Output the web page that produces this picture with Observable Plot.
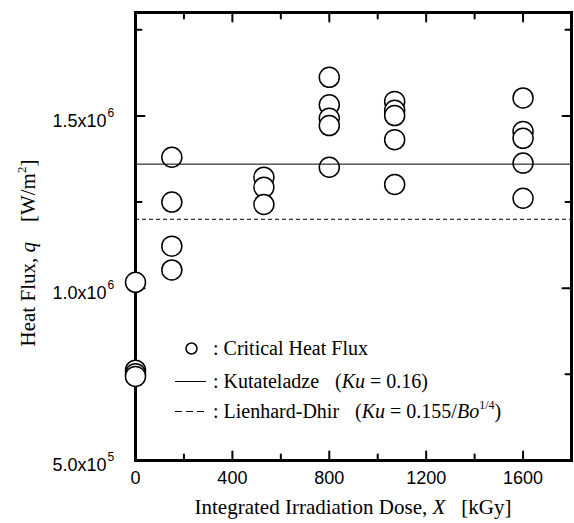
<!DOCTYPE html>
<html><head><meta charset="utf-8">
<script src="https://cdn.jsdelivr.net/npm/d3@7"></script>
<script src="https://cdn.jsdelivr.net/npm/@observablehq/plot@0.6"></script>
<style>
body{margin:0;background:#fff;}
</style></head><body><div id="chart"></div>
<script>
// ---- data ----
const doseX = [0,0,0,0, 150,150,150,150, 530,530,530, 800,800,800,800,800, 1070,1070,1070,1070,1070, 1600,1600,1600,1600,1600];
const heatFluxQ = [1.017e6,0.762e6,0.752e6,0.744e6, 1.380e6,1.250e6,1.122e6,1.053e6, 1.322e6,1.293e6,1.243e6, 1.612e6,1.532e6,1.493e6,1.472e6,1.351e6, 1.542e6,1.516e6,1.501e6,1.431e6,1.301e6, 1.552e6,1.455e6,1.435e6,1.363e6,1.261e6];
const kutateladzeQ = [1.36e6];
const lienhardDhirQ = [1.20e6];
const xDomain = [0, 1800];
const yDomain = [5e5, 1.8e6];
const xTickLabels = [0, 400, 800, 1200, 1600];
const xMajorTicks = [400, 800, 1200, 1600];
const xMinorTicks = [200, 600, 1000, 1400];
const yTickValues = [5e5, 1e6, 1.5e6];
const yTickMantissa = ["5.0x10", "1.0x10", "1.5x10"];
const yTickExponent = ["5", "6", "6"];
const yMajorTicks = [1e6, 1.5e6];
const yMinorTicks = [7.5e5, 1.25e6, 1.75e6];

const points = doseX.map((x, i) => ({x, q: heatFluxQ[i]}));
const yLabels = yTickValues.map((v, i) => ({v, m: yTickMantissa[i], e: yTickExponent[i]}));

const sans = "'Liberation Sans', Arial, Helvetica, sans-serif";
const serif = "'Liberation Serif', 'Times New Roman', serif";
const tickShape = {draw(ctx, l) { ctx.moveTo(0, 0); ctx.lineTo(0, -l); }};

function ticks(data, anchor, len, rot, chan) {
  const o = {frameAnchor: anchor, length: len, rotate: rot, anchor: "start", shape: tickShape, stroke: "black", strokeWidth: 2};
  o[chan] = d => d;
  return Plot.vector(data, o);
}

const plot = Plot.plot({
  width: 574, height: 523,
  marginLeft: 135, marginRight: 3, marginTop: 12, marginBottom: 63,
  x: {domain: xDomain, axis: null},
  y: {domain: yDomain, axis: null},
  style: {background: "white", color: "black"},
  marks: [
    Plot.frame({stroke: "black", strokeWidth: 3}),
    ticks(xMajorTicks, "bottom", 9, 0, "x"),
    ticks(xMinorTicks, "bottom", 6, 0, "x"),
    ticks(xMajorTicks, "top", 9, 180, "x"),
    ticks(xMinorTicks, "top", 6, 180, "x"),
    ticks(yMajorTicks, "left", 9, 90, "y"),
    ticks(yMinorTicks, "left", 6, 90, "y"),
    ticks(yMajorTicks, "right", 9, -90, "y"),
    ticks(yMinorTicks, "right", 6, -90, "y"),
    Plot.dot(points, {x: "x", y: "q", r: 10, fill: "white", stroke: "black", strokeWidth: 1.5}),
    Plot.ruleY(kutateladzeQ, {stroke: "black", strokeWidth: 1}),
    Plot.ruleY(lienhardDhirQ, {stroke: "black", strokeWidth: 1, strokeDasharray: "4,3"}),
    Plot.text(xTickLabels, {x: d => d, frameAnchor: "bottom", dy: 23, text: d => String(d), fontSize: 18, fontFamily: sans, fill: "black"}),
    Plot.text(yLabels, {y: "v", frameAnchor: "left", dx: -29, dy: 5, text: "m", textAnchor: "end", fontSize: 18, fontFamily: sans, fill: "black"}),
    Plot.text(yLabels, {y: "v", frameAnchor: "left", dx: -28, dy: -3, text: "e", textAnchor: "start", fontSize: 12, fontFamily: sans, fill: "black"})
  ]
});
document.getElementById("chart").appendChild(plot);

// ---- rich-text axis titles and legend ----
const svg = d3.select(plot);
const xs = plot.scale("x"), ys = plot.scale("y");
const cx = (xs.apply(xDomain[0]) + xs.apply(xDomain[1])) / 2;

const xt = svg.append("text").attr("x", cx).attr("y", 514).attr("text-anchor", "middle")
  .attr("font-family", serif).attr("font-size", 21).attr("fill", "black");
xt.append("tspan").text("Integrated Irradiation Dose, ");
xt.append("tspan").attr("font-style", "italic").text("X");
xt.append("tspan").attr("dx", 16).text("[kGy]");

const cy = (ys.apply(yDomain[0]) + ys.apply(yDomain[1])) / 2 + 17;
const yt = svg.append("text").attr("transform", `translate(35,${cy}) rotate(-90)`).attr("text-anchor", "middle")
  .attr("font-family", serif).attr("font-size", 21).attr("fill", "black");
yt.append("tspan").text("Heat Flux, ");
yt.append("tspan").attr("font-style", "italic").text("q");
yt.append("tspan").attr("dx", 20).text("[W/m");
yt.append("tspan").attr("font-size", 13).attr("dy", -9).text("2");
yt.append("tspan").attr("dy", 9).text("]");

const lg = svg.append("g").attr("font-family", serif).attr("font-size", 20).attr("fill", "black").attr("text-anchor", "start");
lg.append("circle").attr("cx", 191.5).attr("cy", 348.5).attr("r", 5.5).attr("fill", "white").attr("stroke", "black").attr("stroke-width", 1.5);
lg.append("text").attr("x", 213).attr("y", 355).text(": Critical Heat Flux");
lg.append("line").attr("x1", 175).attr("x2", 206).attr("y1", 381.5).attr("y2", 381.5).attr("stroke", "black").attr("stroke-width", 1);
const t2 = lg.append("text").attr("x", 213).attr("y", 388);
t2.append("tspan").text(": Kutateladze");
t2.append("tspan").attr("dx", 16).text("(");
t2.append("tspan").attr("font-style", "italic").text("Ku");
t2.append("tspan").text(" = 0.16)");
lg.append("line").attr("x1", 175).attr("x2", 204).attr("y1", 411.5).attr("y2", 411.5).attr("stroke", "black").attr("stroke-width", 1).attr("stroke-dasharray", "7,4");
const t3 = lg.append("text").attr("x", 213).attr("y", 418);
t3.append("tspan").text(": Lienhard-Dhir");
t3.append("tspan").attr("dx", 16).text("(");
t3.append("tspan").attr("font-style", "italic").text("Ku");
t3.append("tspan").text(" = 0.155/");
t3.append("tspan").attr("font-style", "italic").text("Bo");
t3.append("tspan").attr("font-size", 12).attr("dy", -9).text("1/4");
t3.append("tspan").attr("dy", 9).text(")");
</script>
</body></html>
